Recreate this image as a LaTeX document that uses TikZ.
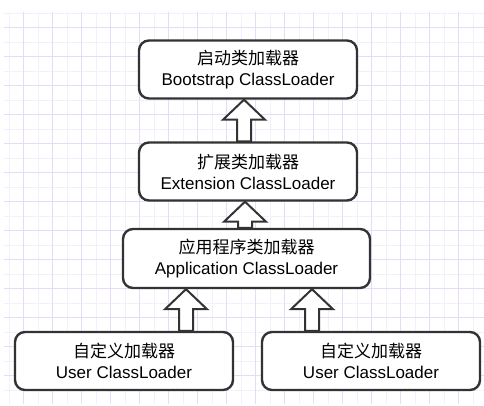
\documentclass[tikz,border=0pt]{standalone}
\usepackage{fontspec}
\setmainfont{Liberation Sans}
\newfontfamily\cjk{Noto Sans CJK SC}
\usetikzlibrary{calc}
\definecolor{boxline}{HTML}{333333}
\definecolor{majorgrid}{HTML}{E6DCFA}
\definecolor{minorgrid}{HTML}{F3EFFD}
\tikzset{
  loader/.style = {rectangle, rounded corners=10pt, draw=boxline, fill=white,
                   line width=2.4pt, align=center, minimum width=218pt, minimum height=58pt,
                   font=\fontsize{17}{21}\selectfont, inner sep=2pt},
  hollowarr/.style = {draw=boxline, fill=white, line width=2pt, line join=miter},
  minorline/.style = {draw=minorgrid, line width=0.8pt},
  majorline/.style = {draw=majorgrid, line width=0.9pt},
}
% hollow block arrow from a base coordinate up to the bottom of a node
\newcommand{\upblock}[2]{%
  \draw[hollowarr] ($(#1)+(-7,0)$) -- ($(#1 |- #2.south)+(-7,-20)$)
    -- ($(#1 |- #2.south)+(-21,-20)$) -- (#1 |- #2.south)
    -- ($(#1 |- #2.south)+(21,-20)$) -- ($(#1 |- #2.south)+(7,-20)$)
    -- ($(#1)+(7,0)$) -- cycle;}

\begin{document}
\begin{tikzpicture}[x=1pt, y=1pt]
    \useasboundingbox (0,0) rectangle (484,405);
    \fill[white] (0,0) rectangle (484,405);
    \begin{scope}
        \clip (4,2) rectangle (484,392);
        \draw[minorline, step=14.5, shift={(9,0.5)}] (-9,0) grid (480,392);
        \draw[majorline, step=29, shift={(23.5,0.5)}] (-29,0) grid (470,392);
    \end{scope}

    \node[loader] (boot) at (248,335.5) {{\cjk 启动类加载器}\\Bootstrap ClassLoader};
    \node[loader] (ext)  at (248,233.5) {{\cjk 扩展类加载器}\\Extension ClassLoader};
    \node[loader, minimum width=247pt, minimum height=59pt] (app) at (246.5,146.5) {{\cjk 应用程序类加载器}\\Application ClassLoader};
    \node[loader] (user1) at (124,44) {{\cjk 自定义加载器}\\User ClassLoader};
    \node[loader] (user2) at (371,44) {{\cjk 自定义加载器}\\User ClassLoader};

    \coordinate (b1) at (244,0 |- ext.north);
    \coordinate (b2) at (245,0 |- app.north);
    \coordinate (b3) at (186,0 |- user1.north);
    \coordinate (b4) at (312,0 |- user2.north);
    \upblock{b1}{boot}
    \upblock{b2}{ext}
    \upblock{b3}{app}
    \upblock{b4}{app}
\end{tikzpicture}
\end{document}
